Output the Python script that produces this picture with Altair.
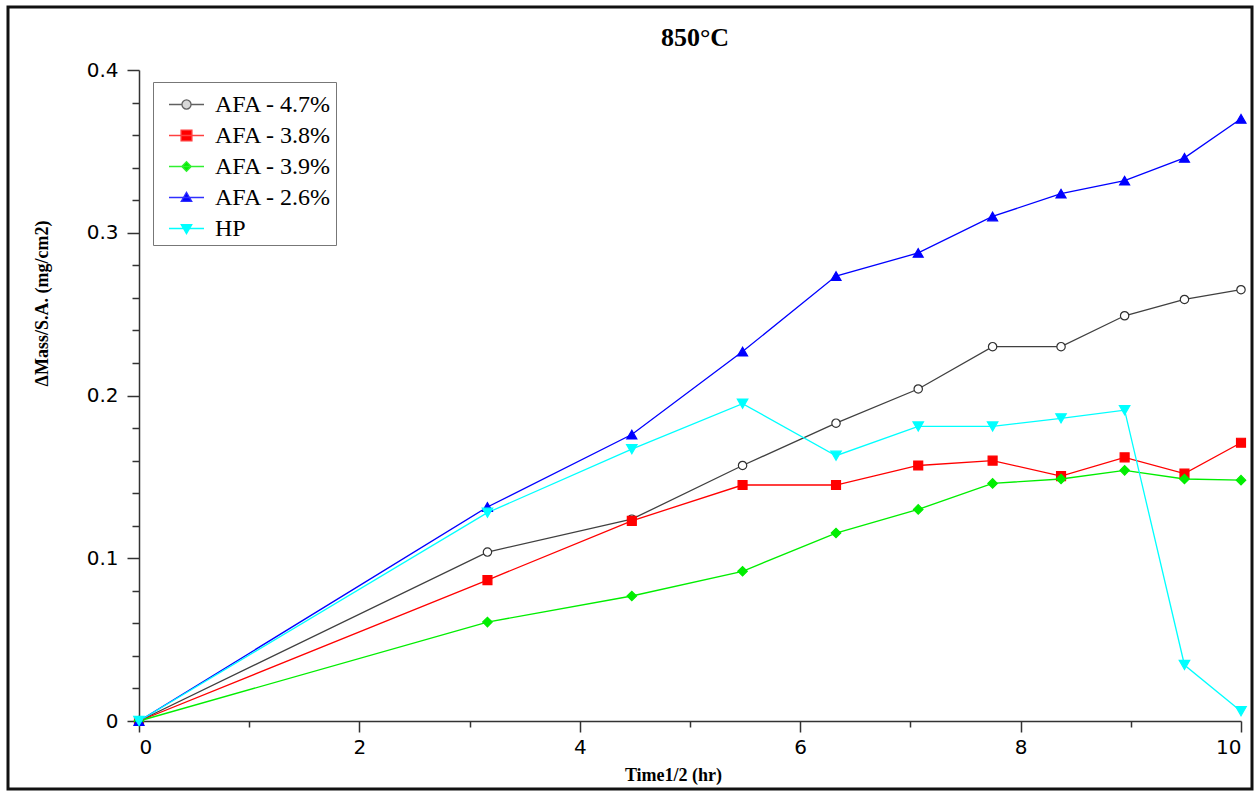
import altair as alt
import pandas as pd

series_names = ["AFA - 4.7%", "AFA - 3.8%", "AFA - 3.9%", "AFA - 2.6%", "HP"]
time_sqrt = [0, 3.162, 4.472, 5.477, 6.325, 7.071, 7.746, 8.367, 8.944, 9.487, 10.0]
afa_47 = [0, 0.1038, 0.124, 0.157, 0.183, 0.204, 0.230, 0.230, 0.249, 0.259, 0.265]
afa_38 = [0, 0.0866, 0.123, 0.145, 0.145, 0.157, 0.160, 0.1505, 0.162, 0.152, 0.171]
afa_39 = [0, 0.0608, 0.0768, 0.092, 0.1155, 0.130, 0.146, 0.1487, 0.154, 0.1487, 0.148]
afa_26 = [0, 0.1315, 0.176, 0.227, 0.2734, 0.2876, 0.310, 0.324, 0.332, 0.346, 0.370]
hp = [0, 0.128, 0.167, 0.195, 0.163, 0.181, 0.181, 0.186, 0.191, 0.0344, 0.006]

x_ticks = [0, 1, 2, 3, 4, 5, 6, 7, 8, 9, 10]
y_ticks = [0, 0.02, 0.04, 0.06, 0.08, 0.1, 0.12, 0.14, 0.16, 0.18, 0.2,
           0.22, 0.24, 0.26, 0.28, 0.3, 0.32, 0.34, 0.36, 0.38, 0.4]

line_colors = ["#404040", "#ff0000", "#00ee00", "#0000ff", "#00ffff"]
fill_colors = ["#ffffff", "#ff0000", "#00ee00", "#0000ff", "#00ffff"]
stroke_colors = ["#303030", "#ff0000", "#00ee00", "#0000ff", "#00ffff"]
shapes = ["circle", "square", "diamond", "triangle-up", "triangle-down"]
sizes = [70, 110, 55, 90, 90]

# legend glyphs: a line segment with the marker in the middle (unit coords)
legend_glyphs = [
    "M-1,0H-0.26M0.26,0H1M0.26,0A0.26,0.26,0,1,1,-0.26,0A0.26,0.26,0,1,1,0.26,0Z",
    "M-1,0H1M-0.31,-0.31H0.31V0.31H-0.31Z",
    "M-1,0H1M0,-0.27L0.27,0L0,0.27L-0.27,0Z",
    "M-1,0H1M0,-0.3L0.3,0.22L-0.3,0.22Z",
    "M-1,0H1M0,0.3L0.3,-0.22L-0.3,-0.22Z",
]
legend_fills = ["#d8d8d8", "#ff0000", "#00ee00", "#0000ff", "#00ffff"]
legend_strokes = ["#606060", "#ff4040", "#30f030", "#3030ff", "#00ffff"]

rows = []
for name, vals in zip(series_names, [afa_47, afa_38, afa_39, afa_26, hp]):
    for t, v in zip(time_sqrt, vals):
        rows.append({"t": t, "m": v, "Series": name})
df = pd.DataFrame(rows)

x_major = "datum.value % 2 == 0"
y_major = "abs(datum.value*10 - round(datum.value*10)) < 0.001"

x_enc = alt.X(
    "t:Q",
    scale=alt.Scale(domain=[0, 10], nice=False, zero=False),
    axis=alt.Axis(
        values=x_ticks,
        tickCount=30,
        title="Time1/2 (hr)",
        labelExpr=f"{x_major} ? toString(datum.value) : ''",
        labelOverlap=False,
        tickSize={"condition": {"test": x_major, "value": 11}, "value": 6},
        labelPadding=5,
        titleX=534, titleY=54, titleBaseline="middle", titleAlign="center",
        titleAnchor="start",
    ),
)
y_enc = alt.Y(
    "m:Q",
    scale=alt.Scale(domain=[0, 0.4], nice=False),
    axis=alt.Axis(
        values=y_ticks,
        tickCount=50,
        title="\u0394Mass/S.A. (mg/cm2)",
        labelExpr=f"{y_major} ? toString(round(datum.value*10)/10) : ''",
        labelOverlap=False,
        tickSize={"condition": {"test": y_major, "value": 12}, "value": 7},
        labelPadding=9,
        titleX=-97, titleY=233, titleAngle=270, titleBaseline="middle",
        titleAlign="center", titleAnchor="start",
    ),
)

legend_main = alt.Legend(
    orient="none", legendX=14, legendY=12, title=None,
    symbolSize=1225, symbolStrokeWidth=1.3, symbolOffset=11,
    labelFont="Liberation Serif", labelFontSize=24, labelColor="black",
    labelOffset=10, rowPadding=-12, padding=4, strokeColor="#777777",
)

base = alt.Chart(df)

lines = base.mark_line(strokeWidth=1.3).encode(
    x=x_enc, y=y_enc,
    color=alt.Color("Series:N", scale=alt.Scale(domain=series_names, range=line_colors),
                    legend=None),
)

points = base.mark_point(opacity=1, strokeWidth=1.2).encode(
    x="t:Q", y="m:Q",
    shape=alt.Shape("Series:N", scale=alt.Scale(domain=series_names, range=shapes), legend=None),
    fill=alt.Fill("Series:N", scale=alt.Scale(domain=series_names, range=fill_colors), legend=None),
    stroke=alt.Stroke("Series:N", scale=alt.Scale(domain=series_names, range=stroke_colors), legend=None),
    size=alt.Size("Series:N", scale=alt.Scale(domain=series_names, range=sizes), legend=None),
)

# empty layer that only carries the legend (line + marker glyphs)
legend_layer = base.transform_filter("datum.m < 0").mark_point(
    opacity=1, strokeWidth=1.3, size=1225
).encode(
    x="t:Q", y="m:Q",
    shape=alt.Shape("Series:N", scale=alt.Scale(domain=series_names, range=legend_glyphs),
                    legend=legend_main),
    fill=alt.Fill("Series:N", scale=alt.Scale(domain=series_names, range=legend_fills),
                  legend=legend_main),
    stroke=alt.Stroke("Series:N", scale=alt.Scale(domain=series_names, range=legend_strokes),
                      legend=legend_main),
)

frame = alt.Chart(pd.DataFrame({"a": [0]})).mark_rect(
    fillOpacity=0, stroke="#111111", strokeWidth=3
).encode(x=alt.value(-131), x2=alt.value(1113), y=alt.value(-63), y2=alt.value(719))

chart = alt.layer(frame, lines, points, legend_layer).resolve_scale(
    shape="independent", fill="independent", stroke="independent"
).properties(
    width=1102, height=651,
    padding={"left": 139, "top": 70, "right": 16, "bottom": 70},
    autosize=alt.AutoSizeParams(type="none"),
    background="white",
    title=alt.TitleParams("850°C", font="Liberation Serif", fontSize=26, fontWeight="bold",
                          anchor="middle", frame="group", offset=-71, baseline="bottom",
                          dx=5, color="black"),
).configure_view(stroke=None).configure_axis(
    grid=False, domainColor="#333333", tickColor="#333333", domainWidth=1.5, tickWidth=1.5,
    labelFont="DejaVu Sans", labelFontSize=20, labelColor="black",
    titleFont="Liberation Serif", titleFontWeight="bold", titleFontSize=18, titleColor="black",
)

chart.save("out.html", embed_options={"renderer": "svg", "actions": False})
